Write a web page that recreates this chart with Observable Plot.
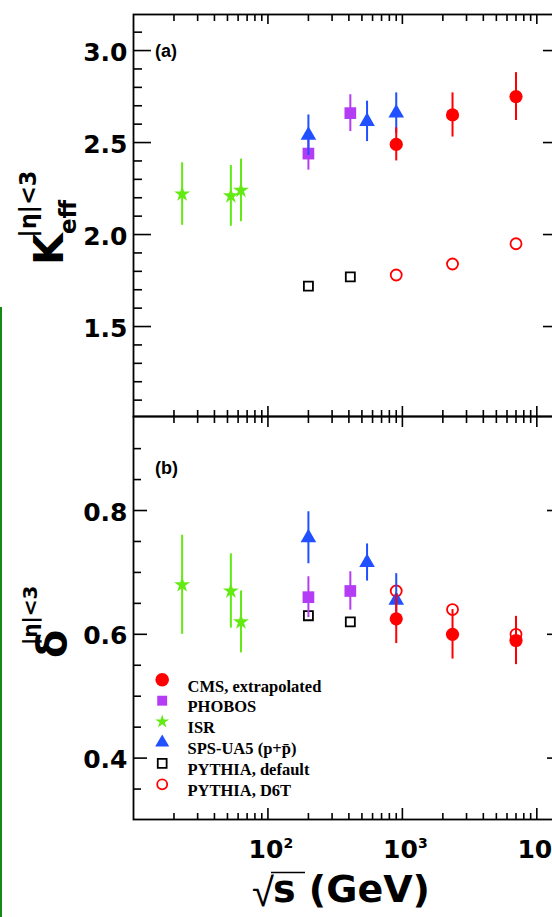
<!DOCTYPE html>
<html>
<head>
<meta charset="utf-8">
<script src="https://cdn.jsdelivr.net/npm/d3@7"></script>
<script src="https://cdn.jsdelivr.net/npm/@observablehq/plot@0.6"></script>
<style>
html, body { margin: 0; padding: 0; background: #fff; overflow: hidden; }
#wrap { position: relative; width: 552px; height: 917px; overflow: hidden; background: #fff; }
#wrap svg { position: absolute; left: 0; max-width: none !important; background: transparent !important; overflow: visible; }
#greenbar { position: absolute; left: 0; top: 307px; width: 2px; height: 610px; background: #138a13; }
</style>
</head>
<body>
<div id="wrap"><div id="greenbar"></div></div>
<script>
// ---------------- data ----------------
const seriesLabels = ["CMS, extrapolated", "PHOBOS", "ISR", "SPS-UA5 (p+p\u0304)", "PYTHIA, default", "PYTHIA, D6T"];

const cmsEnergy = [900, 2360, 7000];
const cmsK = [2.49, 2.65, 2.75];
const cmsKErr = [0.09, 0.12, 0.13];
const cmsDelta = [0.625, 0.60, 0.59];
const cmsDeltaErr = [0.04, 0.04, 0.039];

const phobosEnergy = [200, 410];
const phobosK = [2.44, 2.66];
const phobosKErr = [0.09, 0.10];
const phobosDelta = [0.66, 0.67];
const phobosDeltaErr = [0.033, 0.031];

const isrEnergy = [23, 53, 63];
const isrK = [2.22, 2.21, 2.24];
const isrKErr = [0.17, 0.165, 0.17];
const isrDelta = [0.68, 0.67, 0.62];
const isrDeltaErr = [0.08, 0.06, 0.05];

const ua5Energy = [200, 546, 900];
const ua5K = [2.54, 2.615, 2.66];
const ua5KErr = [0.11, 0.11, 0.11];
const ua5Delta = [0.756, 0.716, 0.655];
const ua5DeltaErr = [0.042, 0.03, 0.043];

const pythiaDefEnergy = [200, 410];
const pythiaDefK = [1.72, 1.77];
const pythiaDefDelta = [0.63, 0.62];

const pythiaD6TEnergy = [900, 2360, 7000];
const pythiaD6TK = [1.78, 1.84, 1.95];
const pythiaD6TDelta = [0.67, 0.64, 0.60];

const xMajorTicks = [100, 1000, 10000];
const xTickBase = ["10", "10", "10"];
const xTickExponents = ["2", "3", "4"];
const xMinorTicks = [20, 30, 40, 50, 60, 70, 80, 90, 200, 300, 400, 500, 600, 700, 800, 900, 2000, 3000, 4000, 5000, 6000, 7000, 8000, 9000];
const kMajorTicks = [1.5, 2.0, 2.5, 3.0];
const kMinorTicks = [1.1, 1.2, 1.3, 1.4, 1.6, 1.7, 1.8, 1.9, 2.1, 2.2, 2.3, 2.4, 2.6, 2.7, 2.8, 2.9, 3.1];
const deltaMajorTicks = [0.4, 0.6, 0.8];
const deltaMinorTicks = [0.35, 0.45, 0.5, 0.55, 0.65, 0.7, 0.75, 0.85, 0.9];
const panelLabels = ["(a)", "(b)"];

// ---------------- styles ----------------
const RED = "#ff0000", PURPLE = "#b43cf5", GREEN = "#62ea12", BLUE = "#2050ff";
const series = [
  {label: seriesLabels[4], E: pythiaDefEnergy, K: pythiaDefK, D: pythiaDefDelta, legend: 4,
   st: {symbol: "square", fill: "none", stroke: "#000", strokeWidth: 1.8, r: 5.1}, lr: 5.0},
  {label: seriesLabels[5], E: pythiaD6TEnergy, K: pythiaD6TK, D: pythiaD6TDelta, legend: 5,
   st: {symbol: "circle", fill: "none", stroke: RED, strokeWidth: 1.8, r: 5.5}, lr: 5.0},
  {label: seriesLabels[2], E: isrEnergy, K: isrK, KErr: isrKErr, D: isrDelta, DErr: isrDeltaErr, legend: 2, color: GREEN,
   st: {symbol: "star", fill: GREEN, stroke: "none", r: 5.0}, lr: 4.3},
  {label: seriesLabels[1], E: phobosEnergy, K: phobosK, KErr: phobosKErr, D: phobosDelta, DErr: phobosDeltaErr, legend: 1, color: PURPLE,
   st: {symbol: "square", fill: PURPLE, stroke: "none", r: 6.6}, lr: 5.6},
  {label: seriesLabels[3], E: ua5Energy, K: ua5K, KErr: ua5KErr, D: ua5Delta, DErr: ua5DeltaErr, legend: 3, color: BLUE,
   st: {symbol: "triangle", fill: BLUE, stroke: "none", r: 5.8}, lr: 5.2},
  {label: seriesLabels[0], E: cmsEnergy, K: cmsK, KErr: cmsKErr, D: cmsDelta, DErr: cmsDeltaErr, legend: 0, color: RED,
   st: {symbol: "circle", fill: RED, stroke: "none", r: 6.6}, lr: 6.8}
];

function seriesMarks(s, key, errKey) {
  const rows = s.E.map((e, i) => ({e, v: s[key][i], err: s[errKey] ? s[errKey][i] : null}));
  const m = [];
  if (s[errKey]) m.push(Plot.ruleX(rows, {x: "e", y1: d => d.v - d.err, y2: d => d.v + d.err, stroke: s.color, strokeWidth: 2}));
  m.push(Plot.dot(rows, {x: "e", y: "v", ...s.st}));
  return m;
}

const AX = {fontFamily: "DejaVu Sans", fontWeight: "bold", fontSize: 25};
const TW = 1.6;

function frameAxes(yMajor, yMinor, yMajLen, yMinLen, xTopMaj, xBotMaj) {
  return [
    Plot.axisY(yMajor, {anchor: "left", tickSize: 0, tickPadding: 6, dy: 2, tickFormat: d3.format(".1f"), label: null, ...AX}),
    Plot.axisY(yMajor, {anchor: "left", tickSize: -yMajLen, fill: "none", strokeWidth: TW, label: null}),
    Plot.axisY(yMinor, {anchor: "left", tickSize: -yMinLen, fill: "none", strokeWidth: TW, label: null}),
    Plot.axisY(yMajor, {anchor: "right", tickSize: -yMajLen, fill: "none", strokeWidth: TW, label: null}),
    Plot.axisY(yMinor, {anchor: "right", tickSize: -yMinLen, fill: "none", strokeWidth: TW, label: null}),
    Plot.axisX(xMajorTicks, {anchor: "top", tickSize: -xTopMaj, fill: "none", strokeWidth: TW, label: null}),
    Plot.axisX(xMinorTicks, {anchor: "top", tickSize: -6, fill: "none", strokeWidth: TW, label: null}),
    Plot.axisX(xMajorTicks, {anchor: "bottom", tickSize: -xBotMaj, fill: "none", strokeWidth: TW, label: null}),
    Plot.axisX(xMinorTicks, {anchor: "bottom", tickSize: -6, fill: "none", strokeWidth: TW, label: null}),
    Plot.frame({stroke: "#000", strokeWidth: 1.8})
  ];
}

const common = {
  width: 560, marginLeft: 133, marginRight: 0,
  x: {type: "log", domain: [10, 15000]},
  style: "background: transparent; max-width: none; overflow: visible; color: black;"
};

// ---------------- panel (a) ----------------
const plotA = Plot.plot({
  ...common,
  height: 417, marginTop: 14, marginBottom: 1,
  y: {domain: [1.011, 3.196]},
  marks: [
    ...frameAxes(kMajorTicks, kMinorTicks, 18, 9, 9, 10),
    ...series.flatMap(s => seriesMarks(s, "K", "KErr")),
    Plot.text([panelLabels[0]], {x: null, y: null, text: d => d, frameAnchor: "top-left", dx: 21.5, dy: 29.5,
      textAnchor: "start", fontFamily: "Liberation Sans", fontWeight: "bold", fontSize: 18})
  ]
});
plotA.style.top = "0px";

// ---------------- panel (b) ----------------
const legendSeries = series.slice().sort((a, b) => a.legend - b.legend);
const plotB = Plot.plot({
  ...common,
  height: 511, marginTop: 10, marginBottom: 98,
  y: {domain: [0.3008, 0.9519]},
  marks: [
    ...frameAxes(deltaMajorTicks, deltaMinorTicks, 14, 8, 10, 11),
    ...series.flatMap(s => seriesMarks(s, "D", "DErr")),
    Plot.text(xMajorTicks, {x: d => d, text: (d, i) => xTickBase[i], frameAnchor: "bottom", dx: -2, dy: 38, ...AX}),
    Plot.text(xMajorTicks, {x: d => d, text: (d, i) => xTickExponents[i], frameAnchor: "bottom", dx: 15.5, dy: 28.5,
      textAnchor: "start", fontFamily: "DejaVu Sans", fontWeight: "bold", fontSize: 14}),
    Plot.text([panelLabels[1]], {x: null, y: null, text: d => d, frameAnchor: "top-left", dx: 21.5, dy: 44.5,
      textAnchor: "start", fontFamily: "Liberation Sans", fontWeight: "bold", fontSize: 18}),
    ...legendSeries.flatMap((s, i) => [
      Plot.dot([s.label], {x: null, y: null, frameAnchor: "top-left", dx: 28.7, dy: 263.3 + i * 20.9, ...s.st, r: s.lr}),
      Plot.text([s.label], {x: null, y: null, text: d => d, frameAnchor: "top-left", dx: 54, dy: 263.3 + i * 20.9,
        textAnchor: "start", fontFamily: "Liberation Serif", fontWeight: "bold", fontSize: 16.5})
    ])
  ]
});
plotB.style.top = "406px";

const wrap = document.getElementById("wrap");
wrap.appendChild(plotA);
wrap.appendChild(plotB);

// ---------------- axis titles ----------------
const ov = d3.select(wrap).append("svg")
  .attr("width", 552).attr("height", 917)
  .style("top", "0px").style("pointer-events", "none");

function vtext(x, y, size, str) {
  ov.append("text")
    .attr("transform", `translate(${x},${y}) rotate(-90)`)
    .attr("font-family", "DejaVu Sans").attr("font-weight", "bold")
    .attr("font-size", size).attr("fill", "#000").text(str);
}
vtext(63, 265, 41, "K");
vtext(76, 234, 23, "eff");
vtext(36, 237.5, 22.5, "|\u03b7|<3");
vtext(66, 658, 41, "\u03b4");
vtext(37, 645, 20, "|\u03b7|<3");

ov.append("text").attr("x", 252).attr("y", 906)
  .attr("font-family", "Liberation Sans").attr("font-size", 40).attr("fill", "#000").text("\u221a");
ov.append("text").attr("x", 273).attr("y", 902)
  .attr("font-family", "DejaVu Sans").attr("font-weight", "bold").attr("font-size", 38).attr("fill", "#000").text("s (GeV)");
ov.append("line").attr("x1", 271).attr("x2", 305).attr("y1", 872.5).attr("y2", 872.5)
  .attr("stroke", "#000").attr("stroke-width", 1.6);
</script>
</body>
</html>
